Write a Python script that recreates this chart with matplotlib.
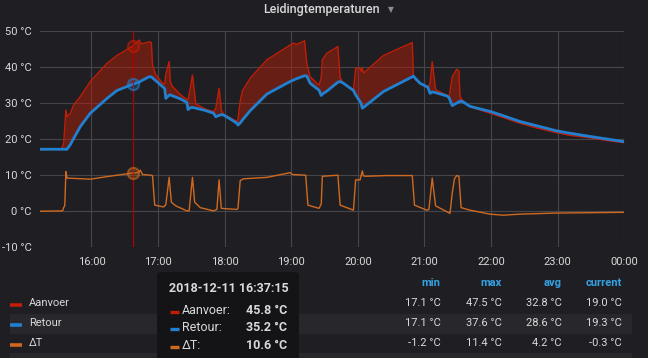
import matplotlib
matplotlib.use('Agg')
import matplotlib.pyplot as plt
import matplotlib.dates as mdates
from matplotlib.patches import FancyBboxPatch, Rectangle
from matplotlib.transforms import IdentityTransform
from matplotlib.ticker import FuncFormatter
from datetime import datetime, timedelta

plt.rcParams['font.family'] = ['Roboto', 'DejaVu Sans']

# ---------------- data ----------------
title = "Leidingtemperaturen"
series_names = ["Aanvoer", "Retour", "ΔT"]

time_main = ["15:13", "15:33", "15:35", "15:37", "15:38", "15:41", "15:44", "15:50", "15:59", "16:14",
             "16:23", "16:37", "16:43", "16:45", "16:52", "16:54", "16:55", "16:58", "17:05", "17:06",
             "17:07", "17:10", "17:11", "17:13", "17:20", "17:26", "17:27", "17:29", "17:31", "17:34",
             "17:42", "17:50", "17:52", "17:55", "17:57", "17:59", "18:05", "18:11", "18:12", "18:14",
             "18:16", "18:23", "18:38", "18:59", "19:02", "19:05", "19:12", "19:14", "19:17", "19:25",
             "19:27", "19:28", "19:32", "19:42", "19:44", "19:47", "19:56", "19:58", "20:02", "20:03",
             "20:04", "20:05", "20:23", "20:49", "20:50", "20:52", "20:56", "21:03", "21:05", "21:07",
             "21:10", "21:20", "21:22", "21:25", "21:29", "21:31", "21:32", "21:35", "21:41", "21:59",
             "22:11", "22:26", "22:40", "22:59", "23:10", "23:26", "23:45", "00:00"]

aanvoer = [17.1, 17.2, 18.9, 28.1, 26.2, 27.2, 29.5, 31.8, 36.0, 41.0,
           43.2, 45.8, 47.5, 46.4, 47.0, 46.8, 40.6, 37.8, 35.2, 35.5,
           38.0, 41.5, 36.0, 34.6, 32.4, 31.0, 31.0, 34.0, 37.8, 29.8,
           28.4, 27.6, 28.5, 34.1, 28.1, 26.9, 25.9, 24.9, 25.5, 30.5,
           33.4, 36.9, 42.0, 46.1, 46.6, 46.3, 47.3, 41.0, 37.3, 35.0,
           37.0, 42.0, 43.8, 45.7, 37.0, 35.5, 33.6, 39.7, 39.6, 38.8,
           39.9, 38.3, 43.2, 46.8, 37.8, 36.4, 35.6, 34.2, 35.5, 41.5,
           33.7, 32.2, 31.3, 37.3, 39.4, 39.0, 31.8, 30.5, 29.0, 27.2,
           26.0, 24.4, 23.2, 21.8, 21.1, 20.5, 19.6, 19.0]

retour = [17.2, 17.2, 17.2, 17.2, 17.2, 18.5, 20.2, 23.5, 27.2, 31.3,
          33.5, 35.2, 35.8, 36.2, 37.3, 37.3, 37.0, 36.2, 34.3, 34.0,
          31.3, 32.2, 32.3, 32.0, 31.2, 30.2, 28.2, 28.7, 28.8, 28.6,
          28.0, 27.2, 26.2, 26.6, 26.8, 26.7, 25.6, 24.4, 23.9, 24.5,
          25.3, 27.9, 32.5, 36.0, 36.4, 36.8, 37.6, 37.5, 35.5, 33.6,
          32.1, 32.5, 33.3, 35.8, 36.0, 35.5, 33.5, 32.3, 30.4, 29.8,
          28.6, 28.8, 33.2, 37.3, 37.5, 36.8, 35.5, 34.4, 32.7, 33.1,
          32.9, 32.0, 31.6, 29.3, 30.0, 30.3, 30.6, 30.3, 29.1, 27.7,
          26.5, 24.9, 23.8, 22.3, 21.7, 20.9, 20.0, 19.3]

time_dt = ["15:13", "15:34", "15:35", "15:36", "15:37", "15:38", "15:59", "16:14", "16:23", "16:37",
           "16:42", "16:44", "16:46", "16:53", "16:55", "16:57", "17:05", "17:07", "17:10", "17:12",
           "17:16", "17:26", "17:28", "17:31", "17:33", "17:38", "17:50", "17:53", "17:55", "17:57",
           "18:11", "18:12", "18:14", "18:17", "18:38", "18:59", "19:01", "19:13", "19:15", "19:25",
           "19:27", "19:28", "19:42", "19:44", "19:56", "19:58", "20:02", "20:04", "20:05", "20:07",
           "20:26", "20:49", "20:51", "21:02", "21:04", "21:07", "21:10", "21:23", "21:25", "21:27",
           "21:29", "21:31", "21:33", "21:41", "21:59", "22:11", "22:26", "22:59", "00:00"]

delta_t = [0.0, 0.1, 1.0, 1.6, 11.0, 9.2, 8.9, 9.6, 10.0, 10.6,
           10.7, 11.4, 10.2, 10.0, 9.9, 1.7, 1.2, 1.8, 9.4, 2.5,
           1.5, 0.1, 0.1, 9.4, 2.5, 1.0, 0.1, 0.5, 8.7, 0.8,
           0.5, 0.8, 8.5, 9.0, 9.4, 10.7, 10.2, 10.0, 1.7, 0.8,
           2.0, 9.7, 10.0, 1.7, 0.3, 8.7, 8.7, 11.2, 9.8, 9.7,
           9.9, 9.9, 1.7, 0.3, 0.5, 9.2, 1.5, -0.6, 5.0, 9.0,
           9.9, 9.7, 1.0, 0.3, -0.8, -1.1, -0.8, -0.5, -0.3]

x_range = ["15:13:40", "00:00"]
y_ticks = [-10, 0, 10, 20, 30, 40, 50]

hover_time = "16:37:15"
hover_label = "2018-12-11 16:37:15"
hover_values = [45.8, 35.2, 10.6]

stat_headers = ["min", "max", "avg", "current"]
stat_min = ["17.1 °C", "17.1 °C", "-1.2 °C"]
stat_max = ["47.5 °C", "37.6 °C", "11.4 °C"]
stat_avg = ["32.8 °C", "28.6 °C", "4.2 °C"]
stat_cur = ["19.0 °C", "19.3 °C", "-0.3 °C"]

# ---------------- style ----------------
BG = '#1f1f23'
BAND = '#28282c'
GRID = '#46464a'
TXT = '#d8d9da'
HEAD = '#33a2e5'
TIP = '#141416'
RED = '#c11d06'
BLUE = '#2180cf'
ORANGE = '#d0691f'
colors = [RED, BLUE, ORANGE]


def to_dt(s):
    parts = [int(p) for p in s.split(':')]
    while len(parts) < 3:
        parts.append(0)
    h, m, sec = parts
    d = datetime(2018, 12, 11) + timedelta(hours=h, minutes=m, seconds=sec)
    if h < 12:
        d += timedelta(days=1)
    return d


tm = [to_dt(s) for s in time_main]
td = [to_dt(s) for s in time_dt]

W, H = 648, 358
fig = plt.figure(figsize=(W / 100, H / 100), dpi=100)
fig.patch.set_facecolor(BG)

ax = fig.add_axes([40 / W, 1 - 247.3 / H, (624.3 - 40) / W, 216.3 / H])
ax.set_facecolor(BG)
for sp in ax.spines.values():
    sp.set_visible(False)

ax.fill_between(tm, aanvoer, retour, color=RED, alpha=0.45, linewidth=0, zorder=2)
ax.plot(tm, aanvoer, color=RED, lw=1.0, zorder=3)
ax.plot(tm, retour, color=BLUE, lw=2.0, zorder=4)
ax.plot(td, delta_t, color=ORANGE, lw=1.0, zorder=4)

ht = to_dt(hover_time)
ax.axvline(ht, color='#b00000', lw=0.9, zorder=5)
for v, c in zip(hover_values, colors):
    ax.plot([ht], [v], 'o', ms=8, mfc=matplotlib.colors.to_rgba(c, 0.25),
            mec=matplotlib.colors.to_rgba(c, 0.6), mew=1.6, zorder=6)

ax.set_xlim(to_dt(x_range[0]), to_dt(x_range[1]))
ax.set_ylim(y_ticks[0], y_ticks[-1])
ax.set_yticks(y_ticks)
ax.yaxis.set_major_formatter(FuncFormatter(lambda v, p: f"{v:.0f} °C"))
ax.xaxis.set_major_locator(mdates.HourLocator())
ax.xaxis.set_major_formatter(mdates.DateFormatter('%H:%M'))
ax.tick_params(length=0, labelsize=8, colors=TXT)
ax.tick_params(axis='y', pad=6)
ax.tick_params(axis='x', pad=7)
ax.grid(True, color=GRID, lw=0.8)
ax.set_axisbelow(True)

# title
fig.text(321 / W, 1 - 9 / H, title, ha='center', va='center', color=TXT,
         fontsize=9, fontweight='medium')
fig.text(391 / W, 1 - 10 / H, '▼', ha='center', va='center', color='#8e8e8e',
         fontsize=5.5, family=['DejaVu Sans'])

# legend bands
fig.add_artist(Rectangle((10 / W, 1 - 334 / H), (632 - 10) / W, 20 / H,
                         transform=fig.transFigure, facecolor=BAND, edgecolor='none', zorder=0.5))
fig.add_artist(Rectangle((10 / W, 1 - 360 / H), (632 - 10) / W, 7 / H,
                         transform=fig.transFigure, facecolor=BAND, edgecolor='none', zorder=0.5))

row_y = [303, 323.5, 343.5]
for name, c, y in zip(series_names, colors, row_y):
    fig.add_artist(plt.Line2D([10 / W, 22 / W], [1 - (y + 1.5) / H] * 2, transform=fig.transFigure,
                              color=c, lw=2.6, solid_capstyle='butt'))
    fig.text(29 / W, 1 - y / H, name, ha='left', va='center', color=TXT, fontsize=8)

col_x = [440.5, 501.5, 561.5, 622]
for hx, hname in zip(col_x, stat_headers):
    fig.text(hx / W, 1 - 283.5 / H, hname, ha='right', va='center', color=HEAD,
             fontsize=8, fontweight='bold')
for col, vals in zip(col_x, [stat_min, stat_max, stat_avg, stat_cur]):
    for y, v in zip(row_y, vals):
        fig.text(col / W, 1 - y / H, v, ha='right', va='center', color=TXT, fontsize=8)

# tooltip
tip = FancyBboxPatch((157, -10), 142, H - 272 + 10, boxstyle="round,pad=0,rounding_size=4",
                     transform=IdentityTransform(), facecolor=TIP, edgecolor='none', zorder=2)
fig.add_artist(tip)
fig.text(228.5 / W, 1 - 288.5 / H, hover_label, ha='center', va='center', color=TXT,
         fontsize=9, fontweight='bold', zorder=4)
tip_y = [310.5, 327.5, 345.5]
for name, c, y, v in zip(series_names, colors, tip_y, hover_values):
    fig.add_artist(plt.Line2D([170 / W, 179 / W], [1 - (y + 1) / H] * 2, transform=fig.transFigure,
                              color=c, lw=2.4, solid_capstyle='butt', zorder=4))
    fig.text(182 / W, 1 - y / H, name + ':', ha='left', va='center', color=TXT, fontsize=9, zorder=4)
    fig.text(287 / W, 1 - y / H, f"{v:.1f} °C", ha='right', va='center', color=TXT,
             fontsize=9, fontweight='bold', zorder=4)

fig.savefig('out.png', dpi=100, facecolor=BG)
